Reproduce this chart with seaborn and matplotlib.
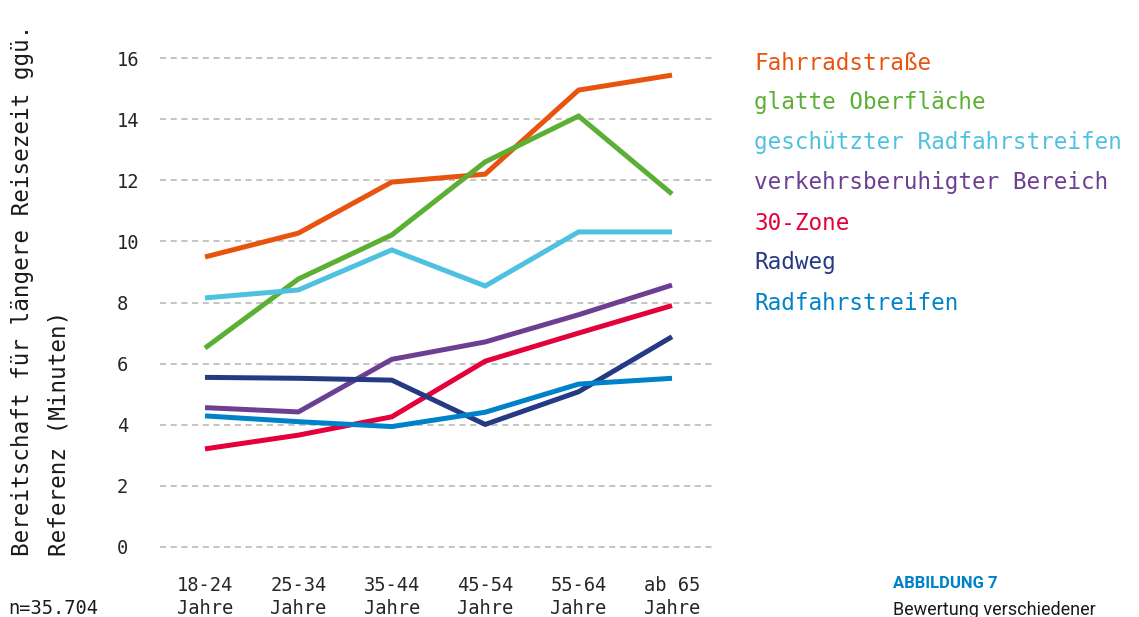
import matplotlib
matplotlib.use("Agg")
import matplotlib.pyplot as plt
import seaborn as sns
import pandas as pd

categories = ["18-24\nJahre", "25-34\nJahre", "35-44\nJahre", "45-54\nJahre", "55-64\nJahre", "ab 65\nJahre"]
series_names = ["Fahrradstraße", "glatte Oberfläche", "geschützter Radfahrstreifen",
                "verkehrsberuhigter Bereich", "30-Zone", "Radweg", "Radfahrstreifen"]
fahrradstrasse = [9.49, 10.27, 11.94, 12.20, 14.95, 15.44]
glatte_oberflaeche = [6.51, 8.77, 10.21, 12.60, 14.10, 11.55]
geschuetzter_rfs = [8.15, 8.41, 9.72, 8.54, 10.31, 10.31]
verkehrsberuhigt = [4.56, 4.42, 6.14, 6.71, 7.60, 8.57]
zone30 = [3.21, 3.66, 4.26, 6.08, 7.00, 7.90]
radweg = [5.55, 5.52, 5.46, 4.01, 5.08, 6.88]
radfahrstreifen = [4.29, 4.10, 3.94, 4.41, 5.33, 5.52]
yticks = [0, 2, 4, 6, 8, 10, 12, 14, 16]
colors = ["#E8530F", "#5BAF33", "#4FC1E0", "#6C3F92", "#E4003A", "#253A85", "#0082CA"]

values = [fahrradstrasse, glatte_oberflaeche, geschuetzter_rfs, verkehrsberuhigt,
          zone30, radweg, radfahrstreifen]
rows = []
for name, vals in zip(series_names, values):
    for i, v in enumerate(vals):
        rows.append({"serie": name, "x": i, "wert": v})
df = pd.DataFrame(rows)

sns.set_theme(style="white")
plt.rcParams["font.family"] = ["DejaVu Sans Mono", "DejaVu Sans"]

W, H = 1139, 617
fig = plt.figure(figsize=(W / 100, H / 100), dpi=100)
ax = fig.add_axes([160 / W, 1 - 562 / H, (713 - 160) / W, (562 - 40) / H])

sns.lineplot(data=df, x="x", y="wert", hue="serie", hue_order=series_names,
             palette=colors, linewidth=3.6, sort=False, legend=False, ax=ax,
             solid_capstyle="butt", solid_joinstyle="miter")

ppu = (547 - 58) / 16
ax.set_ylim(-(562 - 547) / ppu, 16 + (58 - 40) / ppu)
ax.set_xlim(-(205 - 160) / 93.4, 5 + (713 - 672) / 93.4)
ax.set_yticks(yticks)
ax.set_yticklabels([str(t) for t in yticks], fontsize=13.5, ha="left")
ax.set_xticks(range(len(categories)))
ax.set_xticklabels(categories, fontsize=13.5, linespacing=1.25)
ax.tick_params(axis="y", length=0, pad=31)
ax.tick_params(axis="x", length=0, pad=10)
ax.grid(axis="y", color="#b4b4b4", linestyle=(0, (4, 3)), linewidth=1.1)
ax.grid(axis="x", visible=False)
ax.set_axisbelow(True)
for s in ax.spines.values():
    s.set_visible(False)
ax.set_xlabel("")
ax.set_ylabel("")
ax.patch.set_alpha(0)

fig.text(11 / W, 1 - 556 / H, "Bereitschaft für längere Reisezeit ggü.\nReferenz (Minuten)",
         rotation=90, ha="left", va="bottom", multialignment="left",
         fontsize=16.3, color="#1a1a1a", linespacing=1.75)

for i, (name, c) in enumerate(zip(series_names, colors)):
    fig.text(754 / W, 1 - (63 + 40 * i) / H, name, color=c, fontsize=16.3,
             ha="left", va="center")

fig.text(8 / W, 1 - 609 / H, "n=35.704", fontsize=13.5, ha="left", va="center", color="#1a1a1a")
fig.text(893 / W, 1 - 583 / H, "ABBILDUNG 7", fontsize=12, fontweight="bold",
         color="#0082CA", ha="left", va="center", family=["Roboto", "DejaVu Sans"])
fig.text(893 / W, 1 - 610 / H, "Bewertung verschiedener", fontsize=13,
         color="#1a1a1a", ha="left", va="center", family=["Roboto", "DejaVu Sans"])

fig.savefig("out.png", dpi=100)
